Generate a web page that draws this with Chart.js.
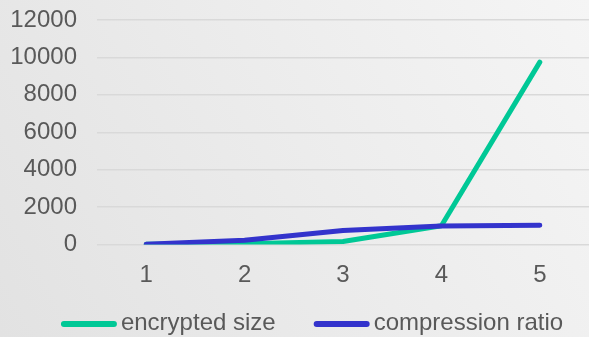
<!DOCTYPE html>
<html>
<head>
<meta charset="utf-8">
<script src="https://cdn.jsdelivr.net/npm/chart.js@4"></script>
<style>
  html, body { margin: 0; padding: 0; background: #ececec; }
  #wrap { width: 589px; height: 337px; position: relative; }
</style>
</head>
<body>
<div id="wrap"><canvas id="chart" width="589" height="337"></canvas></div>
<script>
// Categories along the x axis
const categories = ['1', '2', '3', '4', '5'];
// Series values
const encryptedSize = [10, 40, 160, 1000, 9750];
const compressionRatio = [20, 230, 750, 990, 1030];
// Y axis tick range
const yMin = 0, yMax = 12000, yStep = 2000;

const FONT = "'Liberation Sans', Arial, sans-serif";
const FONT_SIZE = 24;
const TEXT = '#595959';

// Soft diagonal gradient behind the whole chart
const backdrop = {
  id: 'backdrop',
  beforeDraw(chart) {
    const { ctx, width, height } = chart;
    const g = ctx.createLinearGradient(0, height, width, 0);
    g.addColorStop(0, '#e2e2e2');
    g.addColorStop(1, '#f5f5f5');
    ctx.save();
    ctx.fillStyle = g;
    ctx.fillRect(0, 0, width, height);
    ctx.restore();
  }
};

// Legend row under the axis: rounded line swatch followed by the series name
const lineLegend = {
  id: 'lineLegend',
  afterDraw(chart, args, opts) {
    const { ctx } = chart;
    const sets = chart.data.datasets;
    ctx.save();
    ctx.font = FONT_SIZE + 'px ' + FONT;
    ctx.textBaseline = 'middle';
    const sw = opts.swatch, gap = opts.gap, between = opts.between;
    const widths = sets.map(d => sw + gap + ctx.measureText(d.label).width);
    const total = widths.reduce((a, b) => a + b, 0) + between * (sets.length - 1);
    let x = opts.centerX - total / 2;
    const y = opts.y;
    sets.forEach((d, i) => {
      ctx.strokeStyle = d.borderColor;
      ctx.lineWidth = 6;
      ctx.lineCap = 'round';
      ctx.beginPath();
      ctx.moveTo(x + 3, y);
      ctx.lineTo(x + sw - 3, y);
      ctx.stroke();
      ctx.fillStyle = TEXT;
      ctx.fillText(d.label, x + sw + gap, y - 1);
      x += widths[i] + between;
    });
    ctx.restore();
  }
};

new Chart(document.getElementById('chart'), {
  type: 'line',
  data: {
    labels: categories,
    datasets: [
      {
        label: 'encrypted size',
        data: encryptedSize,
        order: 2,
        borderColor: '#00c896',
        backgroundColor: '#00c896',
        borderWidth: 5,
        pointRadius: 0,
        tension: 0,
        borderCapStyle: 'round',
        borderJoinStyle: 'round'
      },
      {
        label: 'compression ratio',
        data: compressionRatio,
        order: 1,
        borderColor: '#3333cc',
        backgroundColor: '#3333cc',
        borderWidth: 5,
        pointRadius: 0,
        tension: 0,
        borderCapStyle: 'round',
        borderJoinStyle: 'round'
      }
    ]
  },
  options: {
    responsive: false,
    animation: false,
    devicePixelRatio: 1,
    layout: { padding: { top: 20, right: 0, bottom: 0, left: 0 } },
    plugins: {
      tooltip: { enabled: false },
      legend: { display: false },
      lineLegend: { centerX: 312, y: 324, swatch: 56, gap: 4, between: 38 }
    },
    scales: {
      x: {
        offset: true,
        afterFit(scale) { scale.height = 92.5; scale.paddingLeft = 0; scale.paddingRight = 0; },
        grid: { display: false, drawTicks: false },
        border: { display: false },
        ticks: { font: { family: FONT, size: FONT_SIZE }, color: TEXT, padding: 16, maxRotation: 0 }
      },
      y: {
        min: yMin,
        max: yMax,
        afterFit(scale) { scale.width = 97; scale.paddingTop = 0; scale.paddingBottom = 0; },
        grid: { color: '#d9d9d9', lineWidth: 1.5, drawTicks: false },
        border: { display: false },
        ticks: {
          stepSize: yStep,
          font: { family: FONT, size: FONT_SIZE },
          color: TEXT,
          padding: 20,
          callback: v => String(v)
        }
      }
    }
  },
  plugins: [backdrop, lineLegend]
});
</script>
</body>
</html>
